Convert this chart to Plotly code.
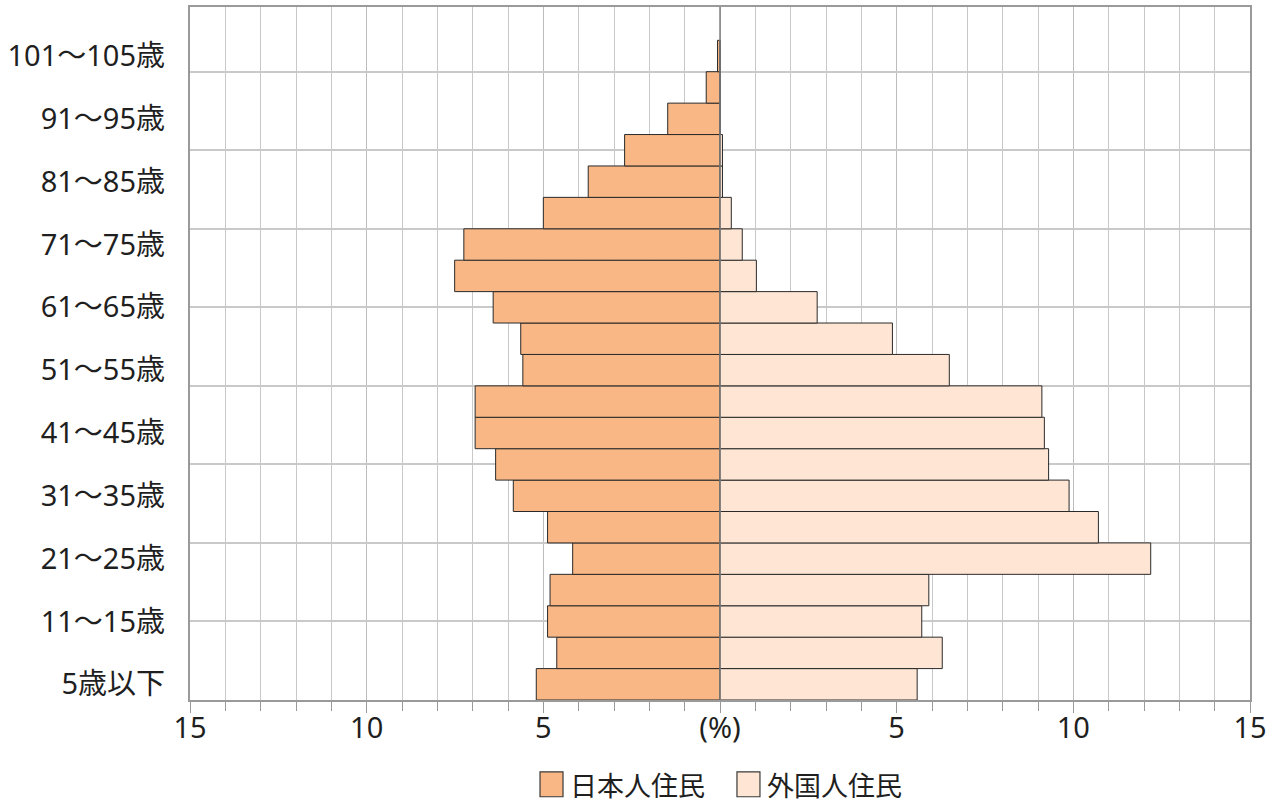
import plotly.graph_objects as go

# Age groups, youngest first (5-year bands)
age_groups = ["5歳以下", "6〜10歳", "11〜15歳", "16〜20歳", "21〜25歳", "26〜30歳",
              "31〜35歳", "36〜40歳", "41〜45歳", "46〜50歳", "51〜55歳", "56〜60歳",
              "61〜65歳", "66〜70歳", "71〜75歳", "76〜80歳", "81〜85歳", "86〜90歳",
              "91〜95歳", "96〜100歳", "101〜105歳"]

# Share of each population (%) by age group
japanese = [5.20, 4.62, 4.88, 4.81, 4.17, 4.88, 5.85, 6.35, 6.93, 6.93, 5.58,
            5.64, 6.42, 7.51, 7.25, 5.00, 3.73, 2.70, 1.48, 0.39, 0.07]
foreign = [5.58, 6.29, 5.71, 5.91, 12.19, 10.71, 9.88, 9.30, 9.18, 9.11, 6.49,
           4.88, 2.75, 1.03, 0.63, 0.32, 0.07, 0.07, 0.0, 0.0, 0.0]

# Axis ticks for the percentage scale (mirrored around zero)
x_tick_values = [-15, -10, -5, 0, 5, 10, 15]
x_tick_labels = ["15", "10", "5", "(%)", "5", "10", "15"]

series_names = ["日本人住民", "外国人住民"]
jp_color = "#F8B784"
fg_color = "#FFE6D4"
edge_color = "#2a2a2a"

FONT = "Noto Sans, Noto Sans CJK JP, sans-serif"
CJK_FONT = "Noto Sans CJK JP, sans-serif"
TEXT = "#1f1f1f"
GRID = "#c9c9c9"
FRAME = "#9a9a9a"

idx = list(range(len(age_groups)))
labelled_idx = idx[::2]
labelled_text = [age_groups[i] for i in labelled_idx]

fig = go.Figure()
fig.add_trace(go.Bar(
    y=idx, x=[-v for v in japanese], orientation="h", width=1,
    name=series_names[0], marker=dict(color=jp_color, line=dict(color=edge_color, width=1)),
    hoverinfo="skip", showlegend=False,
))
fig.add_trace(go.Bar(
    y=idx, x=foreign, orientation="h", width=1,
    name=series_names[1], marker=dict(color=fg_color, line=dict(color=edge_color, width=1)),
    hoverinfo="skip", showlegend=False,
))
# carrier trace for the age-label axis
fig.add_trace(go.Scatter(
    y=idx, x=[0] * len(idx), yaxis="y2", mode="markers",
    marker=dict(opacity=0), hoverinfo="skip", showlegend=False,
))

y_range = [-0.5, 21.56]
grid_rows = [-0.5 + 2.5 * k for k in range(9)]

fig.update_layout(
    width=1284, height=803,
    margin=dict(l=190, r=34, t=5, b=103),
    paper_bgcolor="white", plot_bgcolor="white",
    barmode="overlay",
    font=dict(family=FONT, size=29, color=TEXT),
    xaxis=dict(
        range=[-15, 15], tickmode="array", tickvals=x_tick_values, ticktext=x_tick_labels,
        showgrid=True, gridcolor="#bdbdbd", gridwidth=1,
        zeroline=False,
        ticks="outside", ticklen=11, tickcolor=FRAME, tickwidth=1,
        showline=True, linecolor=FRAME, linewidth=2, mirror=True,
        minor=dict(dtick=1, tick0=0, showgrid=True, gridcolor=GRID, gridwidth=1,
                   ticks="outside", ticklen=9, tickcolor=FRAME, tickwidth=1),
        tickfont=dict(size=29, color=TEXT),
        ticklabelstandoff=-10,
        layer="above traces", fixedrange=True,
    ),
    yaxis=dict(
        range=y_range, tickmode="array", tickvals=grid_rows, showticklabels=False,
        showgrid=True, gridcolor=GRID, gridwidth=1.5, zeroline=False, ticks="",
        showline=True, linecolor=FRAME, linewidth=2, mirror=True,
        layer="above traces", fixedrange=True,
    ),
    yaxis2=dict(
        range=y_range, overlaying="y", side="left", anchor="x",
        tickmode="array", tickvals=labelled_idx, ticktext=labelled_text,
        showgrid=False, zeroline=False, ticks="", showline=False,
        ticklabelstandoff=24, tickfont=dict(size=29, color=TEXT), fixedrange=True,
    ),
)

# centre divider between the two halves of the pyramid
fig.add_shape(type="line", xref="x", yref="paper", x0=0, x1=0, y0=0, y1=1,
              line=dict(color="#808080", width=1.5), layer="above")

# legend swatches and names below the plot
legend_items = [(0.3302, 0.3566, jp_color, series_names[0]),
                (0.5160, 0.5425, fg_color, series_names[1])]
for sx, tx, col, name in legend_items:
    fig.add_shape(type="rect", xref="paper", yref="paper",
                  x0=sx, x1=sx + 0.0217, y0=-0.1036, y1=-0.1396,
                  fillcolor=col, line=dict(color="#3a3a3a", width=1.2))
    fig.add_annotation(xref="paper", yref="paper", x=tx, y=-0.1223,
                       xanchor="left", yanchor="middle", showarrow=False,
                       text=name, font=dict(size=27, color=TEXT, family=CJK_FONT))

fig.write_html("out.html")
